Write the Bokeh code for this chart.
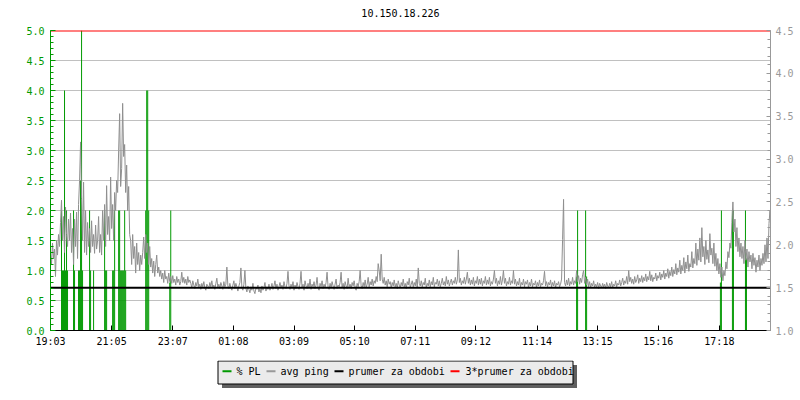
from bokeh.plotting import figure
from bokeh.models import Range1d, LinearAxis, FixedTicker, PrintfTickFormatter
from bokeh.layouts import column
from bokeh.embed import file_html
from bokeh.resources import INLINE
from bokeh.core.properties import value

# ---------------- data ----------------
title_text = "10.150.18.226"
start_clock = "19:03"
window_minutes = 1437
x_tick_labels = ["19:03", "21:05", "23:07", "01:08", "03:09", "05:10",
                 "07:11", "09:12", "11:14", "13:15", "15:16", "17:18"]
pl_left_ticks = [0.0, 0.5, 1.0, 1.5, 2.0, 2.5, 3.0, 3.5, 4.0, 4.5, 5.0]
ping_right_ticks = [1.0, 1.5, 2.0, 2.5, 3.0, 3.5, 4.0, 4.5]

pl_clock = ["19:24", "19:26", "19:28", "19:30", "19:32", "19:34", "19:36",
            "19:48", "19:50",
            "19:58", "20:00", "20:02", "20:04", "20:06",
            "20:20", "20:22", "20:28",
            "20:50", "20:52", "20:54",
            "21:06", "21:08", "21:10",
            "21:18", "21:20", "21:22", "21:24", "21:26", "21:28", "21:30", "21:32",
            "22:12", "22:14", "22:16", "22:18",
            "23:00", "23:02",
            "12:32", "12:34", "12:50", "12:52",
            "17:19", "17:21", "17:43", "17:45", "18:09", "18:11"]
pl_percent = [2.0, 1.0, 1.0, 4.0, 1.0, 2.0, 1.0,
              2.0, 1.0,
              1.0, 1.0, 2.5, 5.0, 1.0,
              2.0, 1.0, 1.0,
              2.0, 1.0, 1.0,
              1.0, 1.0, 2.0,
              2.0, 2.0, 1.0, 1.0, 1.0, 1.0, 2.0, 1.0,
              2.0, 4.0, 4.0, 2.0,
              0.8, 2.0,
              0.9, 2.0, 2.0, 0.9,
              0.8, 2.0, 2.0, 2.0, 2.0, 1.2]

ping_step_minutes = 2
avg_ping_ms = [
    # 19:03 - noisy evening period
    1.91, 1.77, 2.02, 1.84, 1.95, 1.63, 2.05, 1.88, 2.12, 1.98,
    2.26, 2.52, 2.05, 2.33, 1.91, 2.44, 2.12, 1.98, 2.30, 2.05,
    2.37, 1.91, 2.19, 1.77, 2.30, 1.98, 2.38, 1.84, 2.47, 2.75,
    3.20, 2.54, 2.05, 2.73, 1.91, 2.40, 1.88, 2.26, 1.98, 2.19,
    1.91, 2.28, 1.98, 2.12, 1.90, 2.23, 1.95, 2.05, 2.33, 1.91,
    2.12, 1.88, 2.40, 2.05, 2.47, 1.98, 2.69, 2.12, 2.33, 2.05,
    2.79, 2.19, 2.47, 2.05, 2.61, 2.40, 2.75, 2.61, 3.10, 3.53,
    2.68, 2.89, 3.65, 3.03, 3.17, 2.61, 2.93, 2.40, 2.68, 2.12,
    2.05, 1.77, 2.12, 1.84, 1.98, 1.67, 2.02, 1.77, 1.91, 1.70,
    1.88, 1.77, 1.91, 2.09, 1.84, 2.12, 1.91, 2.02, 1.77, 1.98,
    1.74, 1.84, 1.67, 1.81, 1.63, 1.77, 1.88, 1.67, 1.74, 1.63,
    1.70, 1.60, 1.67, 1.56, 1.70, 1.60, 1.63, 1.55, 1.67, 1.57,
    1.63, 1.55, 1.64, 1.56, 1.60, 1.53, 1.63, 1.56, 1.60, 1.53,
    1.57, 1.68, 1.56, 1.62, 1.55, 1.60, 1.53, 1.63, 1.56, 1.59,
    # night - quiet period
    1.55, 1.50, 1.58, 1.53, 1.49, 1.56, 1.52, 1.60, 1.51, 1.54,
    1.48, 1.55, 1.51, 1.57, 1.50, 1.47, 1.54, 1.52, 1.49, 1.56,
    1.51, 1.58, 1.50, 1.53, 1.48, 1.55, 1.61, 1.50, 1.54, 1.49,
    1.56, 1.52, 1.48, 1.57, 1.51, 1.54, 1.74, 1.52, 1.49, 1.55,
    1.50, 1.47, 1.53, 1.58, 1.49, 1.55, 1.51, 1.46, 1.52, 1.56,
    1.73, 1.50, 1.47, 1.54, 1.70, 1.49, 1.45, 1.52, 1.48, 1.44,
    1.51, 1.47, 1.55, 1.46, 1.43, 1.50, 1.48, 1.53, 1.45, 1.49,
    1.44, 1.52, 1.47, 1.50, 1.56, 1.46, 1.51, 1.48, 1.54, 1.47,
    1.50, 1.55, 1.48, 1.52, 1.58, 1.49, 1.54, 1.47, 1.51, 1.56,
    1.50, 1.53, 1.48, 1.57, 1.51, 1.49, 1.55, 1.69, 1.52, 1.48,
    1.54, 1.50, 1.57, 1.47, 1.53, 1.49, 1.56, 1.51, 1.48, 1.55,
    1.69, 1.50, 1.54, 1.47, 1.58, 1.52, 1.49, 1.55, 1.50, 1.60,
    1.48, 1.54, 1.51, 1.57, 1.49, 1.53, 1.62, 1.50, 1.47, 1.55,
    1.51, 1.58, 1.49, 1.54, 1.50, 1.56, 1.68, 1.51, 1.48, 1.55,
    1.50, 1.57, 1.52, 1.48, 1.54, 1.60, 1.49, 1.53, 1.51, 1.56,
    1.68, 1.50, 1.55, 1.48, 1.57, 1.52, 1.49, 1.61, 1.51, 1.54,
    1.49, 1.56, 1.52, 1.58, 1.50, 1.47, 1.55, 1.51, 1.57, 1.70,
    1.52, 1.49, 1.56, 1.51, 1.59, 1.50, 1.54, 1.62, 1.51, 1.57,
    1.53, 1.60, 1.52, 1.58, 1.55, 1.63, 1.57, 1.78, 1.70, 1.58,
    1.89, 1.60, 1.55, 1.62, 1.53, 1.58, 1.51, 1.60, 1.54, 1.57,
    1.50, 1.56, 1.52, 1.59, 1.51, 1.55, 1.49, 1.58, 1.53, 1.50,
    1.56, 1.52, 1.60, 1.51, 1.55, 1.49, 1.57, 1.53, 1.61, 1.50,
    1.54, 1.58, 1.51, 1.56, 1.52, 1.60, 1.50, 1.73, 1.55, 1.52,
    1.58, 1.51, 1.56, 1.53, 1.61, 1.50, 1.55, 1.52, 1.59, 1.51,
    1.57, 1.53, 1.62, 1.51, 1.56, 1.54, 1.60, 1.52, 1.58, 1.51,
    1.55, 1.61, 1.53, 1.57, 1.52, 1.63, 1.54, 1.59, 1.52, 1.56,
    1.60, 1.53, 1.58, 1.55, 1.62, 1.54, 1.59, 1.94, 1.56, 1.61,
    1.53, 1.58, 1.55, 1.62, 1.54, 1.60, 1.68, 1.55, 1.61, 1.53,
    1.59, 1.54, 1.62, 1.52, 1.58, 1.55, 1.63, 1.53, 1.60, 1.54,
    1.61, 1.52, 1.58, 1.55, 1.63, 1.53, 1.59, 1.54, 1.62, 1.52,
    1.57, 1.54, 1.60, 1.70, 1.55, 1.61, 1.52, 1.58, 1.54, 1.63,
    1.53, 1.59, 1.70, 1.55, 1.61, 1.52, 1.57, 1.54, 1.62, 1.53,
    1.58, 1.55, 1.70, 1.54, 1.60, 1.52, 1.57, 1.53, 1.61, 1.51,
    1.56, 1.53, 1.60, 1.51, 1.57, 1.54, 1.59, 1.50, 1.56, 1.52,
    1.60, 1.51, 1.55, 1.53, 1.58, 1.50, 1.56, 1.52, 1.59, 1.51,
    1.55, 1.53, 1.58, 1.69, 1.52, 1.57, 1.51, 1.56, 1.53, 1.59,
    1.51, 1.56, 1.52, 1.58, 1.50, 1.55, 1.53, 1.57, 1.51, 1.54,
    # midday to evening
    1.60, 2.06, 2.53, 1.56, 1.52, 1.59, 1.53, 1.61, 1.52, 1.57,
    1.54, 1.62, 1.53, 1.58, 1.55, 1.70, 1.57, 1.64, 1.54, 1.61,
    1.56, 1.65, 1.70, 1.55, 1.62, 1.53, 1.60, 1.51, 1.57, 1.50,
    1.55, 1.52, 1.58, 1.50, 1.54, 1.51, 1.56, 1.49, 1.55, 1.52,
    1.50, 1.55, 1.51, 1.54, 1.49, 1.56, 1.52, 1.50, 1.55, 1.51,
    1.57, 1.50, 1.54, 1.52, 1.58, 1.51, 1.55, 1.53, 1.59, 1.52,
    1.56, 1.61, 1.53, 1.58, 1.55, 1.63, 1.54, 1.70, 1.57, 1.62,
    1.55, 1.60, 1.54, 1.63, 1.56, 1.59, 1.65, 1.55, 1.61, 1.57,
    1.64, 1.56, 1.62, 1.58, 1.66, 1.57, 1.63, 1.59, 1.69, 1.58,
    1.65, 1.57, 1.62, 1.60, 1.67, 1.58, 1.64, 1.61, 1.68, 1.59,
    1.66, 1.62, 1.70, 1.60, 1.67, 1.63, 1.72, 1.61, 1.69, 1.64,
    1.74, 1.63, 1.71, 1.66, 1.78, 1.65, 1.73, 1.68, 1.82, 1.66,
    1.76, 1.70, 1.85, 1.67, 1.80, 1.72, 1.88, 1.69, 1.78, 1.74,
    1.92, 1.73, 1.84, 1.78, 2.02, 1.76, 1.95, 1.82, 2.08, 1.80,
    2.20, 1.86, 1.98, 1.77, 2.05, 1.83, 1.94, 1.79, 2.13, 1.88,
    1.96, 1.78, 2.02, 1.75, 1.90, 1.70, 1.84, 1.66, 1.78, 1.62,
    1.74, 1.58, 1.70, 1.64, 1.80, 1.72, 1.92, 1.85, 2.02, 1.96,
    2.26, 2.50, 2.15, 2.30, 1.98, 2.20, 1.92, 2.08, 1.86, 2.02,
    1.84, 1.98, 1.78, 2.05, 1.82, 1.95, 1.74, 1.92, 1.80, 1.88,
    1.72, 1.90, 1.76, 1.85, 1.68, 1.82, 1.74, 1.88, 1.70, 1.84,
    1.76, 1.90, 1.78, 2.00, 1.80, 2.08, 1.84, 2.25, 2.40, 2.10,
]
prumer_ms = 1.5
legend_labels = ["% PL", "avg ping", "prumer za obdobi", "3*prumer za obdobi"]

# ---------------- styling ----------------
GREEN = "#009900"
GRAY = "#999999"
BLACK = "#000000"
RED = "#ff0000"
GRID = "#c0c0c0"
FONT = "DejaVu Sans Mono"
FS = "10px"
FRAME_L, FRAME_R = 50, 770          # page x of the plot frame (strips share it)
FRAME_W = FRAME_R - FRAME_L


def minutes_since_start(clock):
    h, m = map(int, clock.split(":"))
    h0, m0 = map(int, start_clock.split(":"))
    t = (h * 60 + m) - (h0 * 60 + m0)
    return t + 1440 if t < 0 else t


tick_minutes = [minutes_since_start(c) for c in x_tick_labels]
pl_minutes = [minutes_since_start(c) for c in pl_clock]
ping_minutes = [ping_step_minutes * i for i in range(len(avg_ping_ms))]
col_w = window_minutes / FRAME_W      # one pixel column, in minutes


def strip(height):
    f = figure(width=800, height=height, x_range=Range1d(FRAME_L, FRAME_R),
               y_range=Range1d(height, 0), toolbar_location=None,
               output_backend="svg", min_border=0, title_location=None,
               x_axis_type=None, y_axis_type=None, outline_line_color=None)
    f.grid.visible = False
    return f


# ---------------- title strip ----------------
ttl = strip(24)
ttl.text(x=[400], y=[12], text=[title_text], text_font=value(FONT),
         text_font_size=FS, text_align="center", text_baseline="middle",
         text_color=BLACK)

# ---------------- main plot ----------------
p = figure(width=800, height=336,
           x_range=Range1d(0, window_minutes), y_range=Range1d(0, 5),
           toolbar_location=None, output_backend="svg", title_location=None,
           min_border_left=FRAME_L, min_border_right=800 - FRAME_R,
           min_border_top=6, min_border_bottom=30,
           outline_line_color=None)
p.extra_y_ranges = {"ping": Range1d(1.0, 4.5)}

left_minor = [k / 10 for k in range(0, 51)]
yax = p.yaxis[0]
yax.ticker = FixedTicker(ticks=pl_left_ticks, minor_ticks=left_minor)
yax.formatter = PrintfTickFormatter(format="%.1f")
yax.axis_line_color = GREEN
yax.major_tick_line_color = GREEN
yax.minor_tick_line_color = GREEN
yax.major_label_text_color = GREEN
yax.major_tick_in = 5
yax.major_tick_out = 0
yax.minor_tick_in = 3
yax.minor_tick_out = 0
yax.major_label_text_font = FONT
yax.major_label_text_font_size = FS
yax.major_label_standoff = 6

right_minor = [1.0 + k / 10 for k in range(0, 36)]
rax = LinearAxis(y_range_name="ping",
                 ticker=FixedTicker(ticks=ping_right_ticks, minor_ticks=right_minor),
                 formatter=PrintfTickFormatter(format="%.1f"))
rax.axis_line_color = GRAY
rax.major_tick_line_color = GRAY
rax.minor_tick_line_color = GRAY
rax.major_label_text_color = GRAY
rax.major_tick_in = 4
rax.major_tick_out = 0
rax.minor_tick_in = 3
rax.minor_tick_out = 0
rax.major_label_text_font = FONT
rax.major_label_text_font_size = FS
rax.major_label_standoff = 5
p.add_layout(rax, "right")

xax = p.xaxis[0]
xax.ticker = FixedTicker(ticks=tick_minutes)
xax.major_label_overrides = {t: lbl for t, lbl in zip(tick_minutes, x_tick_labels)}
xax.axis_line_color = BLACK
xax.major_tick_line_color = BLACK
xax.minor_tick_line_color = None
xax.major_tick_in = 5
xax.major_tick_out = 0
xax.major_label_text_font = FONT
xax.major_label_text_font_size = FS
xax.major_label_text_color = BLACK
xax.major_label_standoff = 5

p.xgrid.visible = False
p.ygrid.ticker = FixedTicker(ticks=pl_left_ticks)
p.ygrid.grid_line_color = GRID
p.ygrid.grid_line_width = 1

# PL columns, each one pixel column wide (left edge on the sample time)
p.quad(left=pl_minutes, right=[m + col_w for m in pl_minutes],
       top=pl_percent, bottom=0, fill_color=GREEN, line_color=None)
p.line(x=ping_minutes, y=avg_ping_ms, line_color="#8f8f8f",
       line_width=1, y_range_name="ping")
p.line(x=[0, window_minutes], y=[prumer_ms, prumer_ms], line_color=BLACK,
       line_width=2, y_range_name="ping")
p.line(x=[0, window_minutes], y=[3 * prumer_ms, 3 * prumer_ms], line_color=RED,
       line_width=2, y_range_name="ping")

# ---------------- legend strip ----------------
lg = strip(40)
box_l, box_r, box_t, box_b = 217.5, 572.5, 0.5, 23.5
lg.quad(left=box_l + 4, right=box_r + 4, top=box_t + 4, bottom=box_b + 4,
        fill_color="#606060", line_color=None)
lg.quad(left=box_l, right=box_r, top=box_t, bottom=box_b,
        fill_color="#ebebeb", line_color=BLACK, line_width=1)
swatch_x = [222, 266, 334, 450]
text_x = [236, 280, 348, 465]
colors = [GREEN, GRAY, BLACK, RED]
ymid = 10.7
lg.segment(x0=swatch_x, x1=[s + 9 for s in swatch_x], y0=[ymid] * 4, y1=[ymid] * 4,
           line_color=colors, line_width=2)
lg.text(x=text_x, y=[ymid] * 4, text=legend_labels, text_font=value(FONT),
        text_font_size=FS, text_baseline="middle", text_color=BLACK)

layout = column(ttl, p, lg, spacing=0)
open("out.html", "w").write(file_html(layout, INLINE))
